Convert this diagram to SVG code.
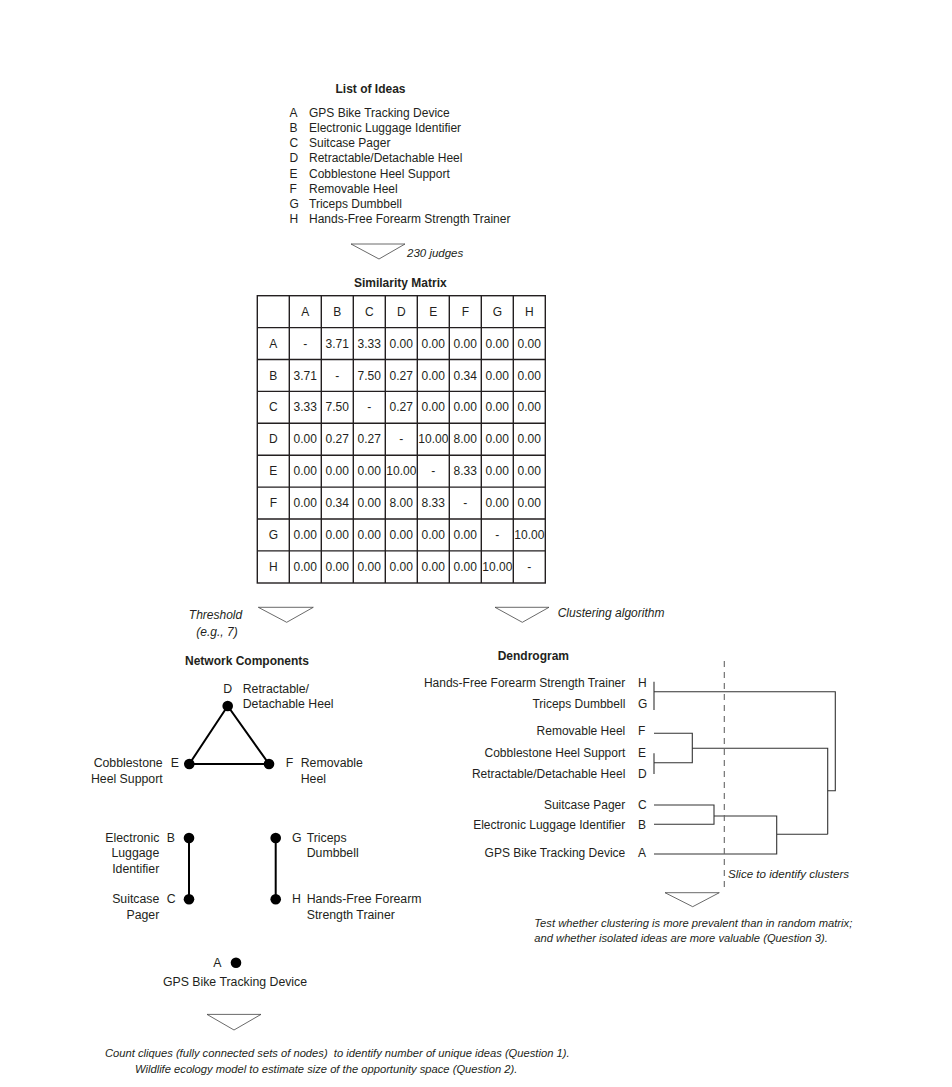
<svg xmlns="http://www.w3.org/2000/svg" width="952" height="1087" viewBox="0 0 952 1087">
<style>
text{font-family:"Liberation Sans",Arial,sans-serif;fill:#231f20;font-size:12px}
.b{font-weight:bold}
.i{font-style:italic}
.sm{font-size:11.2px}
.n{font-size:12.3px}
.c{text-anchor:middle}
.e{text-anchor:end}
.tri{fill:#fff;stroke:#444;stroke-width:0.8}
.grid{stroke:#231f20;stroke-width:1.4;fill:none}
.edge{stroke:#000;stroke-width:2;fill:none}
.dot{fill:#000}
.den{stroke:#333;stroke-width:1.1;fill:none}
.slice{stroke:#666;stroke-width:1.1;stroke-dasharray:6 5}
</style>
<rect width="952" height="1087" fill="#fff"/>

<g id="list">
<text class="b c" x="370.5" y="92.5">List of Ideas</text>
<text x="289.5" y="116.8">A</text><text x="309" y="116.8">GPS Bike Tracking Device</text>
<text x="289.5" y="132">B</text><text x="309" y="132">Electronic Luggage Identifier</text>
<text x="289.5" y="147.2">C</text><text x="309" y="147.2">Suitcase Pager</text>
<text x="289.5" y="162.4">D</text><text x="309" y="162.4">Retractable/Detachable Heel</text>
<text x="289.5" y="177.6">E</text><text x="309" y="177.6">Cobblestone Heel Support</text>
<text x="289.5" y="192.8">F</text><text x="309" y="192.8">Removable Heel</text>
<text x="289.5" y="208">G</text><text x="309" y="208">Triceps Dumbbell</text>
<text x="289.5" y="223.2">H</text><text x="309" y="223.2">Hands-Free Forearm Strength Trainer</text>
</g>

<g id="arrow-judges">
<polygon class="tri" points="351,244 405,244 379,259"/>
<text class="i" x="407" y="256.5" style="font-size:11.5px">230 judges</text>
</g>

<g id="matrix">
<text class="b c" x="400.3" y="287">Similarity Matrix</text>
<g class="grid">
<rect x="257.3" y="295.7" width="288" height="287.3"/>
<path d="M289.3,295.7V583M321.3,295.7V583M353.3,295.7V583M385.3,295.7V583M417.3,295.7V583M449.3,295.7V583M481.3,295.7V583M513.3,295.7V583"/>
<path d="M257.3,327.6H545.3M257.3,359.5H545.3M257.3,391.4H545.3M257.3,423.3H545.3M257.3,455.2H545.3M257.3,487.1H545.3M257.3,519H545.3M257.3,550.9H545.3"/>
</g>
<g class="c">
<text x="305.3" y="315.7">A</text><text x="337.3" y="315.7">B</text><text x="369.3" y="315.7">C</text><text x="401.3" y="315.7">D</text><text x="433.3" y="315.7">E</text><text x="465.3" y="315.7">F</text><text x="497.3" y="315.7">G</text><text x="529.3" y="315.7">H</text>

<text x="273.3" y="347.6">A</text><text x="305.3" y="347.6">-</text><text x="337.3" y="347.6">3.71</text><text x="369.3" y="347.6">3.33</text><text x="401.3" y="347.6">0.00</text><text x="433.3" y="347.6">0.00</text><text x="465.3" y="347.6">0.00</text><text x="497.3" y="347.6">0.00</text><text x="529.3" y="347.6">0.00</text>

<text x="273.3" y="379.5">B</text><text x="305.3" y="379.5">3.71</text><text x="337.3" y="379.5">-</text><text x="369.3" y="379.5">7.50</text><text x="401.3" y="379.5">0.27</text><text x="433.3" y="379.5">0.00</text><text x="465.3" y="379.5">0.34</text><text x="497.3" y="379.5">0.00</text><text x="529.3" y="379.5">0.00</text>

<text x="273.3" y="411.4">C</text><text x="305.3" y="411.4">3.33</text><text x="337.3" y="411.4">7.50</text><text x="369.3" y="411.4">-</text><text x="401.3" y="411.4">0.27</text><text x="433.3" y="411.4">0.00</text><text x="465.3" y="411.4">0.00</text><text x="497.3" y="411.4">0.00</text><text x="529.3" y="411.4">0.00</text>

<text x="273.3" y="443.3">D</text><text x="305.3" y="443.3">0.00</text><text x="337.3" y="443.3">0.27</text><text x="369.3" y="443.3">0.27</text><text x="401.3" y="443.3">-</text><text x="433.3" y="443.3">10.00</text><text x="465.3" y="443.3">8.00</text><text x="497.3" y="443.3">0.00</text><text x="529.3" y="443.3">0.00</text>

<text x="273.3" y="475.2">E</text><text x="305.3" y="475.2">0.00</text><text x="337.3" y="475.2">0.00</text><text x="369.3" y="475.2">0.00</text><text x="401.3" y="475.2">10.00</text><text x="433.3" y="475.2">-</text><text x="465.3" y="475.2">8.33</text><text x="497.3" y="475.2">0.00</text><text x="529.3" y="475.2">0.00</text>

<text x="273.3" y="507.1">F</text><text x="305.3" y="507.1">0.00</text><text x="337.3" y="507.1">0.34</text><text x="369.3" y="507.1">0.00</text><text x="401.3" y="507.1">8.00</text><text x="433.3" y="507.1">8.33</text><text x="465.3" y="507.1">-</text><text x="497.3" y="507.1">0.00</text><text x="529.3" y="507.1">0.00</text>

<text x="273.3" y="539">G</text><text x="305.3" y="539">0.00</text><text x="337.3" y="539">0.00</text><text x="369.3" y="539">0.00</text><text x="401.3" y="539">0.00</text><text x="433.3" y="539">0.00</text><text x="465.3" y="539">0.00</text><text x="497.3" y="539">-</text><text x="529.3" y="539">10.00</text>

<text x="273.3" y="570.9">H</text><text x="305.3" y="570.9">0.00</text><text x="337.3" y="570.9">0.00</text><text x="369.3" y="570.9">0.00</text><text x="401.3" y="570.9">0.00</text><text x="433.3" y="570.9">0.00</text><text x="465.3" y="570.9">0.00</text><text x="497.3" y="570.9">10.00</text><text x="529.3" y="570.9">-</text>
</g>
</g>

<g id="arrow-threshold">
<polygon class="tri" points="258.3,607.3 313.3,607.3 286.7,622.3"/>
<text class="i c" x="215.5" y="619">Threshold</text>
<text class="i c" x="217" y="636">(e.g., 7)</text>
</g>

<g id="arrow-clustering">
<polygon class="tri" points="495,607.3 549,607.3 522.3,622.3"/>
<text class="i" x="557.7" y="617.3">Clustering algorithm</text>
</g>

<g id="network">
<text class="b" x="185" y="665">Network Components</text>
<g id="net-edges">
<path class="edge" d="M227.7,706L189.3,764L269,764Z"/>
<path class="edge" d="M189,838V899.3M275.7,838V899.3"/>
</g>
<g id="node-D"><circle class="dot" cx="227.7" cy="706" r="5.3"/>
<text class="n" x="223.3" y="692.7">D</text><text class="n" x="242.7" y="692.7">Retractable/</text><text class="n" x="242.7" y="708.3">Detachable Heel</text></g>
<g id="node-E"><circle class="dot" cx="189.3" cy="764" r="5.3"/>
<text class="n" x="170.7" y="767.3">E</text><text class="n e" x="162.7" y="767.3">Cobblestone</text><text class="n e" x="162.7" y="782.7">Heel Support</text></g>
<g id="node-F"><circle class="dot" cx="269" cy="764" r="5.3"/>
<text class="n" x="285.7" y="767.3">F</text><text class="n" x="300.7" y="767.3">Removable</text><text class="n" x="300.7" y="782.7">Heel</text></g>
<g id="node-B"><circle class="dot" cx="189" cy="838" r="5.3"/>
<text class="n" x="166.7" y="841.7">B</text><text class="n e" x="159.3" y="841.7">Electronic</text><text class="n e" x="159.3" y="857.3">Luggage</text><text class="n e" x="159.3" y="872.5">Identifier</text></g>
<g id="node-C"><circle class="dot" cx="189" cy="899.3" r="5.3"/>
<text class="n" x="166.7" y="903.3">C</text><text class="n e" x="159.3" y="903.3">Suitcase</text><text class="n e" x="159.3" y="918.5">Pager</text></g>
<g id="node-G"><circle class="dot" cx="275.7" cy="838" r="5.3"/>
<text class="n" x="292" y="841.7">G</text><text class="n" x="306.7" y="841.7">Triceps</text><text class="n" x="306.7" y="857.3">Dumbbell</text></g>
<g id="node-H"><circle class="dot" cx="275.7" cy="899.3" r="5.3"/>
<text class="n" x="292" y="903.3">H</text><text class="n" x="306.7" y="903.3">Hands-Free Forearm</text><text class="n" x="306.7" y="918.5">Strength Trainer</text></g>
<g id="node-A"><circle class="dot" cx="236" cy="962.7" r="5.3"/>
<text class="n" x="213.3" y="966.7">A</text><text class="n c" x="235" y="985.7">GPS Bike Tracking Device</text></g>
</g>

<g id="arrow-cliques">
<polygon class="tri" points="207,1014.4 261,1014.4 234,1030"/>
<text class="i sm" x="105" y="1056.5" xml:space="preserve">Count cliques (fully connected sets of nodes)  to identify number of unique ideas (Question 1).</text>
<text class="i sm" x="135" y="1072.5">Wildlife ecology model to estimate size of the opportunity space (Question 2).</text>
</g>

<g id="dendrogram">
<text class="b" x="497.7" y="660">Dendrogram</text>
<g id="dendro-labels">
<text class="e" x="625.3" y="687">Hands-Free Forearm Strength Trainer</text><text x="638" y="687">H</text>
<text class="e" x="625.3" y="708">Triceps Dumbbell</text><text x="638" y="708">G</text>
<text class="e" x="625.3" y="735">Removable Heel</text><text x="638" y="735">F</text>
<text class="e" x="625.3" y="757.3">Cobblestone Heel Support</text><text x="638" y="757.3">E</text>
<text class="e" x="625.3" y="778.3">Retractable/Detachable Heel</text><text x="638" y="778.3">D</text>
<text class="e" x="625.3" y="809.3">Suitcase Pager</text><text x="638" y="809.3">C</text>
<text class="e" x="625.3" y="829.3">Electronic Luggage Identifier</text><text x="638" y="829.3">B</text>
<text class="e" x="625.3" y="857.3">GPS Bike Tracking Device</text><text x="638" y="857.3">A</text>
</g>
<g id="dendro-links" class="den">
<path d="M654,681.7V710M654,691.7H835.3V790.7H827.7"/>
<path d="M654,733.3H692.3V762.7H654M654,753.3V774M692.3,748.3H827.7V834.3"/>
<path d="M654,805H714V824.3H654M714,816H776.7V854H654M776.7,834.3H827.7"/>
</g>
<line class="slice" x1="724.3" y1="661" x2="724.3" y2="888"/>
<text class="i" x="728" y="878" style="font-size:11.6px">Slice to identify clusters</text>
</g>

<g id="arrow-test">
<polygon class="tri" points="665,892.7 719.3,892.7 692.7,906.7"/>
<text class="i sm" x="534.3" y="926.5">Test whether clustering is more prevalent than in random matrix;</text>
<text class="i sm" x="534.3" y="941.5">and whether isolated ideas are more valuable (Question 3).</text>
</g>
</svg>
